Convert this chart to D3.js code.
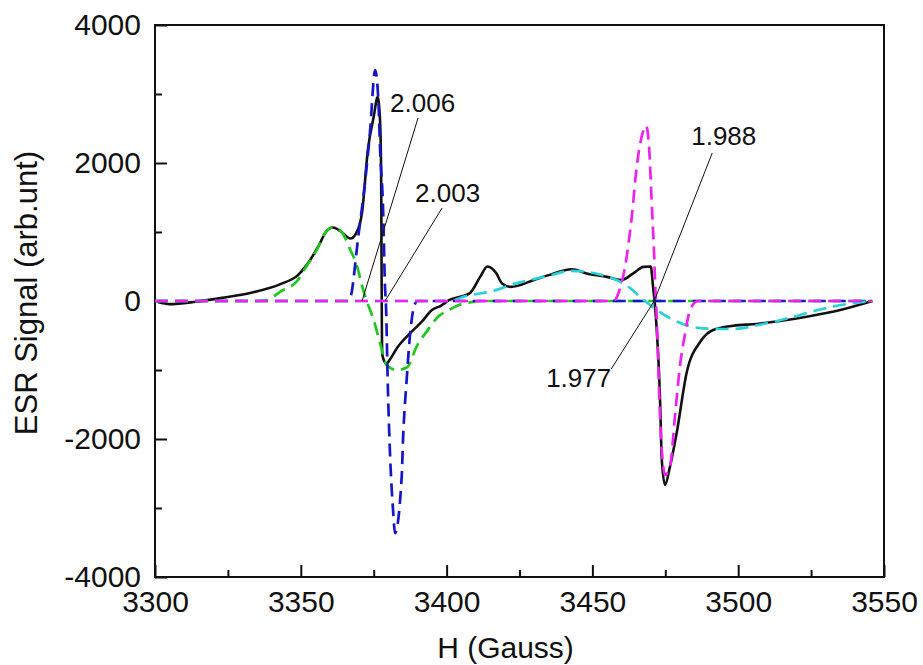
<!DOCTYPE html>
<html>
<head>
<meta charset="utf-8">
<script src="https://cdn.jsdelivr.net/npm/d3@7"></script>
<style>
  html, body { margin: 0; padding: 0; background: #fff; }
  svg { display: block; }
  text { font-family: Arial, "Liberation Sans", sans-serif; fill: #111; }
</style>
</head>
<body>
<svg id="chart" width="923" height="665"></svg>
<script>
// Measured ESR spectrum: [field (G), signal (arb. units)]
const experimental = [
  [3301, -15], [3305, -45], [3314, -10], [3323, 45], [3333, 120], [3343, 245],
  [3349, 375], [3352, 520], [3356, 790], [3358.6, 1000], [3361, 1065], [3364, 1000],
  [3367, 905], [3369, 985], [3371, 1280], [3373, 2190], [3375, 2670], [3376.4, 2960],
  [3377.0, 2750], [3377.4, 2300], [3377.6, 1500], [3377.7, 500], [3377.8, -400],
  [3377.95, -780], [3378.8, -885], [3379.4, -910], [3380.5, -850], [3383, -680],
  [3388, -445], [3391.5, -300], [3395, -130], [3398, -70], [3401, 15], [3408, 115],
  [3411.5, 350], [3414, 500], [3417, 405], [3419, 255], [3422, 205], [3430, 305],
  [3435, 375], [3443, 460], [3448, 400], [3455, 350], [3460, 305], [3464, 400],
  [3467.5, 495], [3470, 500], [3470.8, 207], [3471.5, -83], [3473.2, -1435],
  [3473.8, -2304], [3474.9, -2665], [3476.6, -2400], [3478.9, -1913], [3482.3, -1043],
  [3487, -590], [3491.4, -420], [3498.3, -358], [3506.3, -333], [3514.3, -290],
  [3523.5, -227], [3535, -130], [3546, 0]
];

// Fitted components
const componentGreen = [
  [3300, 0], [3336, 0], [3338.5, 15], [3343, 135], [3349, 305], [3351.5, 475],
  [3355.5, 740], [3358.6, 1000], [3361, 1065], [3364, 1000], [3367, 740],
  [3369, 545], [3371.4, 160], [3372.6, 0], [3375, -275], [3377.2, -615],
  [3379.5, -930], [3383, -1000], [3386.5, -960], [3389.7, -660], [3393.2, -440],
  [3397.7, -205], [3400, -150], [3404, -60], [3408, -20], [3412, 0], [3546, 0]
];
const componentBlue = [
  [3300, 0], [3366.2, 0], [3367, 45], [3369.7, 930], [3372, 1710], [3373.7, 2435],
  [3375.5, 3345], [3376.6, 2910], [3377.2, 2190], [3378.3, 1220], [3378.8, 300],
  [3379.3, -180], [3379.8, -1150], [3380.5, -2110], [3381.7, -3070], [3382.3, -3365],
  [3384.6, -2546], [3385.1, -1966], [3386.3, -1145], [3387.4, -517], [3388.8, -87],
  [3390, 0], [3546, 0]
];
const componentCyan = [
  [3300, 0], [3401, 0], [3406.6, 72], [3415.2, 138], [3423.8, 256], [3434.1, 355],
  [3442.7, 438], [3452.9, 380], [3461.9, 220], [3468, 0], [3477.8, -275],
  [3487.9, -396], [3498.2, -406], [3508.5, -333], [3517.1, -251], [3527.4, -130],
  [3537.7, -41], [3546, 0]
];
const componentMagenta = [
  [3300, 0], [3457.4, 0], [3458.9, 112], [3461.2, 497], [3463.5, 1221],
  [3465.2, 1946], [3466.9, 2381], [3468.4, 2540], [3469.5, 2188], [3470.3, 1463],
  [3471.1, 739], [3471.6, 160], [3472.0, -174], [3472.6, -952], [3473.2, -1677],
  [3474.3, -2401], [3474.9, -2521], [3476.6, -2401], [3478.3, -1677], [3480.0, -952],
  [3481.8, -468], [3483.5, -130], [3486.2, 0], [3546, 0]
];

// g-factor annotations and the field they point to
const gLabels = ["2.006", "2.003", "1.988", "1.977"];
const gFields = [3371, 3378.9, 3471.2, 3471.2];

const xTicks = [3300, 3350, 3400, 3450, 3500, 3550];
const yTicks = [-4000, -2000, 0, 2000, 4000];

const svg = d3.select("#chart");
const margin = { left: 155, right: 39, top: 25, bottom: 88 };
const W = 923, H = 665;

const x = d3.scaleLinear().domain([3300, 3550]).range([margin.left, W - margin.right]);
const y = d3.scaleLinear().domain([-4000, 4000]).range([H - margin.bottom, margin.top]);

// plain hyphen for negative tick values
const fmt = d => String(d);

// Axes with inward ticks
const xMinor = d3.range(3325, 3550, 50);
const yMinor = [-3000, -1000, 1000, 3000];

const gx = svg.append("g").attr("transform", `translate(0,${y(-4000)})`);
gx.call(d3.axisBottom(x).tickValues(xTicks).tickSize(-12).tickPadding(14).tickFormat(fmt));
const gxm = svg.append("g").attr("transform", `translate(0,${y(-4000)})`);
gxm.call(d3.axisBottom(x).tickValues(xMinor).tickSize(-7).tickFormat(""));

const gy = svg.append("g").attr("transform", `translate(${x(3300)},0)`);
gy.call(d3.axisLeft(y).tickValues(yTicks).tickSize(-12).tickPadding(14).tickFormat(fmt));
const gym = svg.append("g").attr("transform", `translate(${x(3300)},0)`);
gym.call(d3.axisLeft(y).tickValues(yMinor).tickSize(-7).tickFormat(""));

svg.selectAll(".domain").remove();
svg.selectAll(".tick line").attr("stroke", "#111").attr("stroke-width", 2);
svg.selectAll(".tick text").style("font-size", "30px").attr("fill", "#111");

// Frame
svg.append("rect")
  .attr("x", x(3300)).attr("y", y(4000))
  .attr("width", x(3550) - x(3300)).attr("height", y(-4000) - y(4000))
  .attr("fill", "none").attr("stroke", "#111").attr("stroke-width", 2);

// Axis titles
svg.append("text")
  .attr("x", (x(3300) + x(3550)) / 2 - 14).attr("y", 658)
  .attr("text-anchor", "middle").style("font-size", "30px")
  .text("H (Gauss)");
svg.append("text")
  .attr("transform", `translate(37,${(y(4000) + y(-4000)) / 2 - 8}) rotate(-90)`)
  .attr("text-anchor", "middle").style("font-size", "31px")
  .text("ESR Signal (arb.unt)");

const line = d3.line().x(d => x(d[0])).y(d => y(d[1])).curve(d3.curveMonotoneX);

// Experimental trace
svg.append("path").datum(experimental)
  .attr("d", line).attr("fill", "none")
  .attr("stroke", "#111").attr("stroke-width", 2.6).attr("stroke-linejoin", "round");

// Components, dashed, drawn over the measured trace
const comps = [
  [componentGreen, "#1ec81e"],
  [componentBlue, "#1616c8"],
  [componentCyan, "#26d2da"],
  [componentMagenta, "#ee22ee"]
];
comps.forEach(([data, color]) => {
  svg.append("path").datum(data)
    .attr("d", line).attr("fill", "none")
    .attr("stroke", color).attr("stroke-width", 2.7)
    .attr("stroke-dasharray", "13,7");
});

// g-factor callouts
const callout = [
  { line: [56, -183], text: [-28, -6], anchor: "start" },
  { line: [57, -93], text: [-27, -6], anchor: "start" },
  { line: [58, -148], text: [-21, -8], anchor: "start" },
  { line: [-43, 68], text: [0, 18], anchor: "end" }
];
gLabels.forEach((label, i) => {
  const tx = x(gFields[i]), ty = y(0);
  const c = callout[i];
  const sx = tx + c.line[0], sy = ty + c.line[1];
  svg.append("line")
    .attr("x1", sx).attr("y1", sy).attr("x2", tx).attr("y2", ty)
    .attr("stroke", "#111").attr("stroke-width", 1);
  svg.append("text")
    .attr("x", sx + c.text[0]).attr("y", sy + c.text[1])
    .attr("text-anchor", c.anchor).style("font-size", "26px")
    .text(label);
});
</script>
</body>
</html>
